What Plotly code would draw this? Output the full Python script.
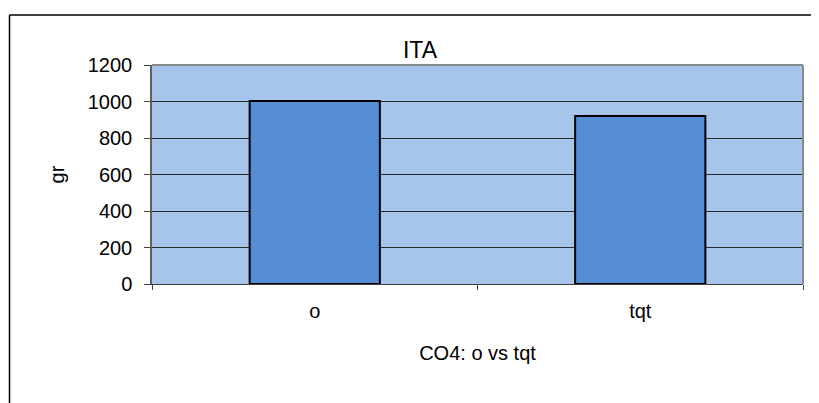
import plotly.graph_objects as go

categories = ["o", "tqt"]
values = [1003, 921]
y_ticks = [0, 200, 400, 600, 800, 1000, 1200]

OFF = 8  # page body margin
W, H = 819 - OFF, 403 - OFF
L, T = 152 - OFF, 65 - OFF
pw, ph = 651, 219
R, B = W - L - pw, H - T - ph

def px_x(px):
    return (px - OFF - L) / pw

def px_y(py):
    return (T + ph - (py - OFF)) / ph

fig = go.Figure()
fig.add_trace(go.Bar(
    x=categories, y=values,
    marker=dict(color="#558ED5", line=dict(color="#000000", width=2)),
))

fig.update_layout(
    width=W, height=H,
    margin=dict(l=L, r=R, t=T, b=B),
    paper_bgcolor="white",
    plot_bgcolor="#A7C4EA",
    bargap=0.6,
    showlegend=False,
    font=dict(family="Liberation Sans, Arial, sans-serif", color="#000000", size=20),
    title=dict(text="ITA", x=(420 - OFF) / W, xref="container", xanchor="center",
               y=1 - (50 - OFF) / H, yref="container", yanchor="middle",
               font=dict(size=23)),
    xaxis=dict(
        type="category", tickson="boundaries", ticks="outside", ticklen=5,
        tickcolor="#404040", showline=True, linecolor="#404040", linewidth=1,
        showgrid=False, ticklabelstandoff=9,
        title=dict(text="CO4: o vs tqt", standoff=24, font=dict(size=20)),
        tickfont=dict(size=20),
    ),
    yaxis=dict(
        range=[0, 1200], tickvals=y_ticks, ticks="outside", ticklen=6,
        tickcolor="#404040", showline=True, linecolor="#606060", linewidth=1.5,
        showgrid=True, gridcolor="#2a2a2a", gridwidth=1, zeroline=False,
        ticklabelstandoff=8,
        title=dict(text="gr", standoff=18, font=dict(size=20)),
        tickfont=dict(size=20),
    ),
)

# plot area top/right border (gray)
fig.add_shape(type="line", xref="paper", yref="paper", x0=0, x1=1, y0=1, y1=1,
              line=dict(color="#8a8a8a", width=2))
fig.add_shape(type="line", xref="paper", yref="paper", x0=1, x1=1, y0=0, y1=1,
              line=dict(color="#8a8a8a", width=2))

# outer chart frame (top and left visible)
fig.add_shape(type="line", xref="paper", yref="paper",
              x0=px_x(9.5), x1=px_x(830), y0=px_y(15), y1=px_y(15),
              line=dict(color="#000000", width=1.5))
fig.add_shape(type="line", xref="paper", yref="paper",
              x0=px_x(9.5), x1=px_x(9.5), y0=px_y(15), y1=px_y(410),
              line=dict(color="#000000", width=1.5))

fig.write_html("out.html")
